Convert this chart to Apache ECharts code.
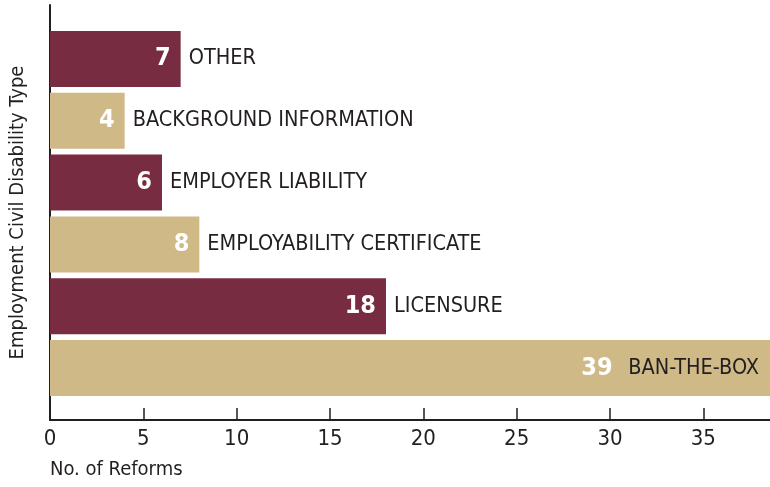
<!DOCTYPE html>
<html>
<head>
<meta charset="utf-8">
<script src="https://cdn.jsdelivr.net/npm/echarts@6/dist/echarts.min.js"></script>
<style>
  html, body { margin: 0; padding: 0; background: #fff; }
  #chart { width: 770px; height: 487px; }
</style>
</head>
<body>
<div id="chart"></div>
<script>
// Categories listed bottom to top (category axis starts at the bottom)
const categories = ['BAN-THE-BOX', 'LICENSURE', 'EMPLOYABILITY CERTIFICATE', 'EMPLOYER LIABILITY', 'BACKGROUND INFORMATION', 'OTHER']
const reforms = [39, 18, 8, 6, 4, 7]
const xTickStep = 5

const MAROON = '#782c41'
const TAN = '#cfb987'
const INK = '#231f20'
const FONT = "'Liberation Sans Narrow', 'DejaVu Sans Condensed', 'Roboto Condensed', sans-serif"

const chart = echarts.init(document.getElementById('chart'))

// value labels inside bars, last bar also carries its name (it runs off the page)
const barData = reforms.map((v, i) => {
  const item = {
    value: v,
    itemStyle: { color: i % 2 === 0 ? TAN : MAROON }
  }
  if (i === 0) {
    item.label = {
      formatter: '{v|' + v + '}  {n|' + categories[i] + '}',
      distance: 0,
      offset: [-19, 0]
    }
  }
  return item
})

// names to the right of each bar (except the clipped last one)
const nameData = reforms.map((v, i) => ({
  value: v,
  label: { show: i !== 0 }
}))

const option = {
  animation: false,
  grid: [
    { left: 50, width: 728, top: 28, height: 371, outerBoundsMode: 'none' },
    { left: 50, width: 728, top: 5, bottom: 67, outerBoundsMode: 'none' }
  ],
  xAxis: [
    { gridIndex: 0, type: 'value', min: 0, max: 39, show: false },
    {
      gridIndex: 1,
      type: 'value',
      min: 0,
      max: 39,
      interval: xTickStep,
      axisLine: { show: true, lineStyle: { color: INK, width: 2 } },
      axisTick: { show: true, inside: true, length: 12, lineStyle: { color: INK, width: 1.5 } },
      axisLabel: {
        color: INK,
        fontFamily: FONT,
        fontSize: 22,
        margin: 8,
        formatter: v => (v % xTickStep === 0 ? String(v) : '')
      },
      splitLine: { show: false },
      name: 'No. of Reforms',
      nameLocation: 'start',
      nameGap: 0,
      nameTextStyle: {
        color: INK,
        fontFamily: FONT,
        fontSize: 20,
        align: 'left',
        verticalAlign: 'top',
        padding: [40, 0, 0, 0]
      }
    }
  ],
  yAxis: [
    { gridIndex: 0, type: 'category', data: categories, show: false },
    {
      gridIndex: 1,
      type: 'value',
      axisLine: { show: true, lineStyle: { color: INK, width: 2 } },
      axisTick: { show: false },
      axisLabel: { show: false },
      splitLine: { show: false },
      name: 'Employment Civil Disability Type',
      nameLocation: 'middle',
      nameGap: 22,
      nameRotate: 90,
      nameTextStyle: { color: INK, fontFamily: FONT, fontSize: 20 }
    }
  ],
  series: [
    {
      name: 'Reforms',
      type: 'bar',
      xAxisIndex: 0,
      yAxisIndex: 0,
      data: barData,
      barCategoryGap: '9.4%',
      label: {
        show: true,
        position: 'insideRight',
        distance: 10,
        color: '#fff',
        fontFamily: FONT,
        fontSize: 25,
        fontWeight: 'bold',
        rich: {
          v: { color: '#fff', fontFamily: FONT, fontSize: 25, fontWeight: 'bold' },
          n: { color: INK, fontFamily: FONT, fontSize: 21.5, fontWeight: 'normal' }
        }
      }
    },
    {
      name: 'Names',
      type: 'bar',
      xAxisIndex: 0,
      yAxisIndex: 0,
      data: nameData,
      barGap: '-100%',
      barCategoryGap: '9.4%',
      silent: true,
      itemStyle: { color: 'rgba(0,0,0,0)' },
      label: {
        position: 'right',
        distance: 8,
        formatter: '{b}',
        color: INK,
        fontFamily: FONT,
        fontSize: 21.5
      }
    }
  ]
}

chart.setOption(option)
</script>
</body>
</html>
